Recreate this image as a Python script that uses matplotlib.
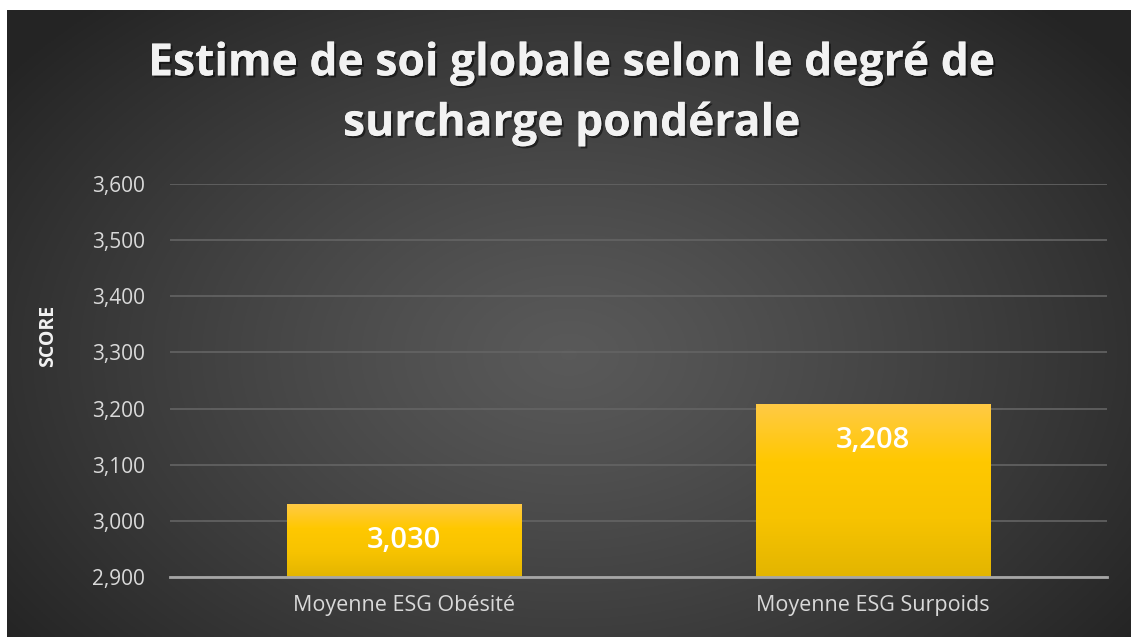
import numpy as np
import matplotlib
matplotlib.use('Agg')
import matplotlib.pyplot as plt
import matplotlib.patheffects as pe
from matplotlib.ticker import FuncFormatter
from matplotlib.colors import LinearSegmentedColormap

# donnees
categories = ['Moyenne ESG Obésité', 'Moyenne ESG Surpoids']
scores = [3.030, 3.208]
yticks = [2.9, 3.0, 3.1, 3.2, 3.3, 3.4, 3.5, 3.6]

plt.rcParams['font.family'] = ['Open Sans', 'DejaVu Sans']

W, H = 1131, 637
fig = plt.figure(figsize=(W / 100, H / 100), dpi=100, facecolor='white')

# fond degrade radial
bg = fig.add_axes([7 / W, 0, 1 - 7 / W, 627 / H])
bg.set_axis_off()
yy, xx = np.mgrid[0:1:300j, 0:1:500j]
d = np.sqrt(((xx - 0.5) / 0.62) ** 2 + ((yy - 0.45) / 0.75) ** 2)
d = np.clip(d, 0, 1)
c = 0.35 - (0.35 - 0.145) * d ** 1.2
img = np.dstack([c, c, c])
bg.imshow(img, extent=[0, 1, 0, 1], aspect='auto', origin='lower')
bg.set_xlim(0, 1)
bg.set_ylim(0, 1)

ax = fig.add_axes([170 / W, 60 / H, 937 / W, 393 / H])
ax.patch.set_alpha(0)

x = np.arange(len(categories))
bars = ax.bar(x, scores, width=0.5, bottom=0, color='#FFC800', zorder=3)

# degrade jaune sur les barres
grad = np.linspace(0, 1, 256).reshape(-1, 1)
cmap = LinearSegmentedColormap.from_list('jaune', ['#E3B500', '#F7C300', '#FFC800', '#FFCA45'])
for b in bars:
    bx = b.get_x()
    im = ax.imshow(grad, extent=[bx, bx + b.get_width(), 2.9, b.get_height()],
                   origin='lower', aspect='auto', cmap=cmap, zorder=4)
    im.set_clip_path(b)

for xi, v in zip(x, scores):
    ax.annotate(f'{v:,.3f}'.replace('.', ','), (xi, v), xytext=(0, -26),
                textcoords='offset points', ha='center', va='center',
                color='white', fontsize=21, fontweight='semibold', zorder=6)

ax.set_xlim(-0.5, 1.5)
ax.set_ylim(2.9, 3.6)
ax.set_yticks(yticks)
ax.yaxis.set_major_formatter(FuncFormatter(lambda v, p: f'{v:.3f}'.replace('.', ',')))
ax.set_xticks(x)
ax.set_xticklabels(categories)
ax.grid(axis='y', color='#646464', linewidth=1.2, zorder=1)
for s in ['top', 'right', 'left']:
    ax.spines[s].set_visible(False)
ax.spines['bottom'].set_color('#A6A6A6')
ax.spines['bottom'].set_linewidth(2)
ax.spines['bottom'].set_zorder(5)
ax.tick_params(axis='both', length=0, colors='#D9D9D9')
ax.tick_params(axis='y', pad=18, labelsize=15)
ax.tick_params(axis='x', pad=13, labelsize=15.5)

fig.text(48 / W, 1 - 336 / H, 'SCORE', rotation=90, ha='center', va='center',
         color='#F2F2F2', fontsize=14, fontweight='bold')

title = 'Estime de soi globale selon le degré de\nsurcharge pondérale'
t = fig.text(572 / W, 1 - 94 / H, title, ha='center', va='center', color='#F2F2F2',
             fontsize=32, fontweight='bold', linespacing=1.45)
t.set_path_effects([pe.withSimplePatchShadow(offset=(1.5, -1.5), shadow_rgbFace='black', alpha=0.5),
                    pe.Normal()])

fig.savefig('out.png', dpi=100, facecolor='white')
